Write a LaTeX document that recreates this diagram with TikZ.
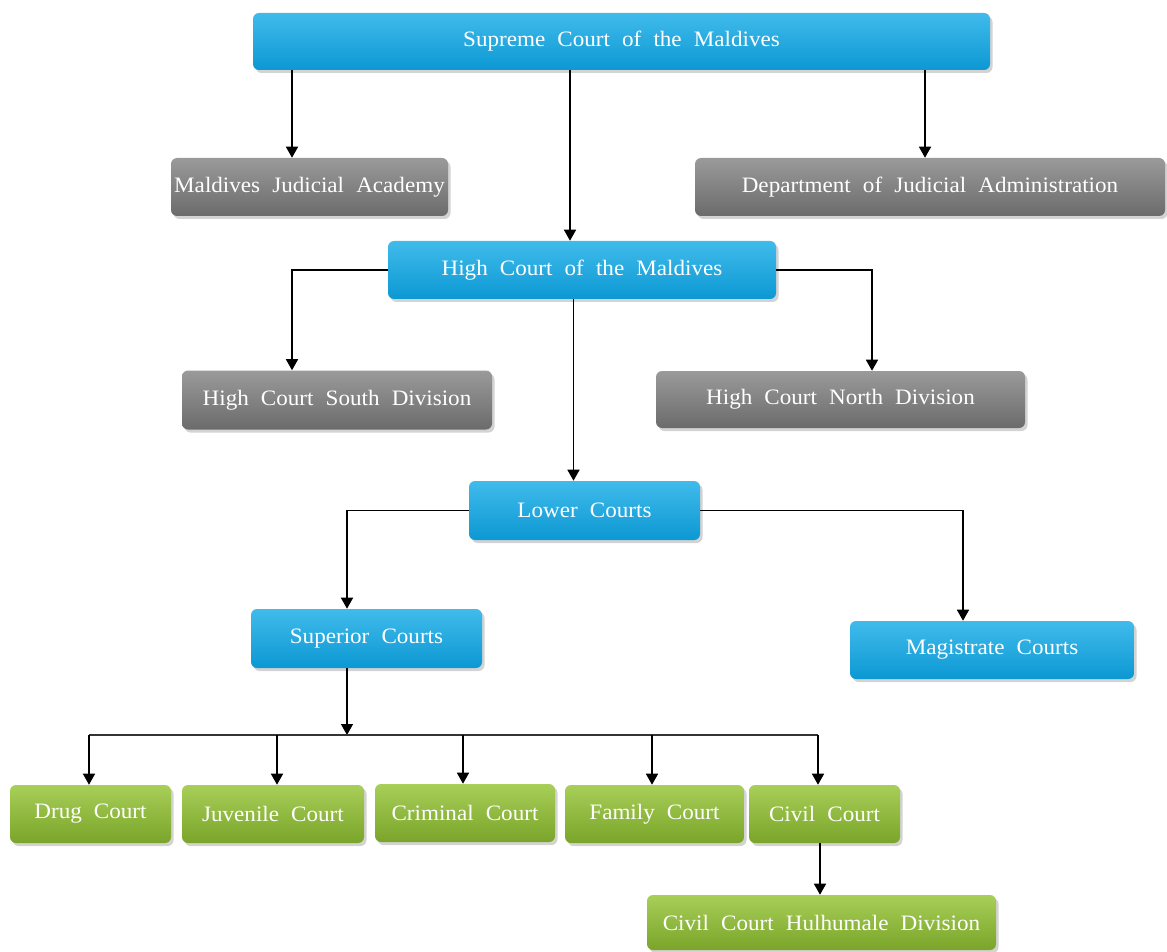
\documentclass[tikz,border=0pt]{standalone}
\usepackage{fontspec}
\setmainfont[WordSpace={2.1},FakeStretch=1.05]{Liberation Serif}
\usetikzlibrary{arrows.meta,shadows,calc}
\def\px{0.75pt}
\definecolor{bluetop}{HTML}{40BBEB}
\definecolor{bluebot}{HTML}{0C98D3}
\definecolor{greytop}{HTML}{9A9A9A}
\definecolor{greybot}{HTML}{6B6B6B}
\definecolor{greentop}{HTML}{A8CF58}
\definecolor{greenbot}{HTML}{7AA42A}
\tikzset{
  box/.style={rounded corners=6*\px, text=white, inner sep=0pt,
    font=\fontsize{16.5}{19}\selectfont,
    drop shadow={opacity=0.35, shadow xshift=2.5*\px, shadow yshift=-3*\px}},
  bluebox/.style={box, top color=bluetop, bottom color=bluebot},
  greybox/.style={box, top color=greytop, bottom color=greybot},
  greenbox/.style={box, top color=greentop, bottom color=greenbot},
  arr/.style={draw=black, line width=1.1pt, -{Triangle[length=11*\px, width=12*\px]}},
  ln/.style={draw=black!80, line width=1.1pt}
}
\begin{document}
\begin{tikzpicture}[x=0.75pt, y=-0.75pt]
\useasboundingbox (0,0) rectangle (1167,952);
% nodes
\node[bluebox, minimum width=737*\px, minimum height=57*\px] (supreme) at (621.5,41.5) {Supreme Court of the Maldives};
\node[greybox, minimum width=277*\px, minimum height=58*\px] (mja) at (309.5,187) {Maldives Judicial Academy};
\node[greybox, minimum width=470*\px, minimum height=58*\px] (dja) at (930,187) {Department of Judicial Administration};
\node[bluebox, minimum width=388*\px, minimum height=58*\px] (high) at (582,270) {High Court of the Maldives};
\node[greybox, minimum width=310*\px, minimum height=59*\px] (south) at (337,400) {High Court South Division};
\node[greybox, minimum width=369*\px, minimum height=57*\px] (north) at (840.5,399.5) {High Court North Division};
\node[bluebox, minimum width=231*\px, minimum height=59*\px] (lower) at (584.5,510.5) {Lower Courts};
\node[bluebox, minimum width=231*\px, minimum height=59*\px] (superior) at (366.5,638.5) {Superior Courts};
\node[bluebox, minimum width=284*\px, minimum height=58*\px] (magistrate) at (992,650) {Magistrate Courts};
\node[greenbox, minimum width=161*\px, minimum height=58*\px] (drug) at (90.5,814) {Drug Court};
\node[greenbox, minimum width=182*\px, minimum height=58*\px] (juvenile) at (273,814) {Juvenile Court};
\node[greenbox, minimum width=180*\px, minimum height=58*\px] (criminal) at (465,813) {Criminal Court};
\node[greenbox, minimum width=179*\px, minimum height=58*\px] (family) at (654.5,814) {Family Court};
\node[greenbox, minimum width=151*\px, minimum height=58*\px] (civil) at (824.5,814) {Civil Court};
\node[greenbox, minimum width=349*\px, minimum height=55*\px] (hul) at (821.5,922.5) {Civil Court Hulhumale Division};
% connectors
\draw[arr] ([xshift=-17.5*\px]mja.north |- supreme.south) -- ([xshift=-17.5*\px]mja.north);
\draw[arr] ([xshift=-12*\px]high.north |- supreme.south) -- ([xshift=-12*\px]high.north);
\draw[arr] ([xshift=-5*\px]dja.north |- supreme.south) -- ([xshift=-5*\px]dja.north);
\draw[arr] (high.west) -| ([xshift=-45*\px]south.north);
\draw[arr] (high.east) -| ([xshift=31.5*\px]north.north);
\draw[arr] ([xshift=-11*\px]lower.north |- high.south) -- ([xshift=-11*\px]lower.north);
\draw[arr] (lower.west) -| ([xshift=-19.5*\px]superior.north);
\draw[arr] (lower.east) -| ([xshift=-29*\px]magistrate.north);
\coordinate (bus) at (347,735);
\draw[arr] ([xshift=-19.5*\px]superior.south) -- (bus);
\draw[ln] ([xshift=-1.5*\px]drug.north |- bus) -- ([xshift=-6.5*\px]civil.north |- bus);
\draw[arr] ([xshift=-1.5*\px]drug.north |- bus) -- ([xshift=-1.5*\px]drug.north);
\draw[arr] ([xshift=4*\px]juvenile.north |- bus) -- ([xshift=4*\px]juvenile.north);
\draw[arr] ([xshift=-2*\px]criminal.north |- bus) -- ([xshift=-2*\px]criminal.north);
\draw[arr] ([xshift=-2.5*\px]family.north |- bus) -- ([xshift=-2.5*\px]family.north);
\draw[arr] ([xshift=-6.5*\px]civil.north |- bus) -- ([xshift=-6.5*\px]civil.north);
\draw[arr] ([xshift=-4.5*\px]civil.south) -- ([xshift=-1.5*\px]hul.north);
\end{tikzpicture}
\end{document}
